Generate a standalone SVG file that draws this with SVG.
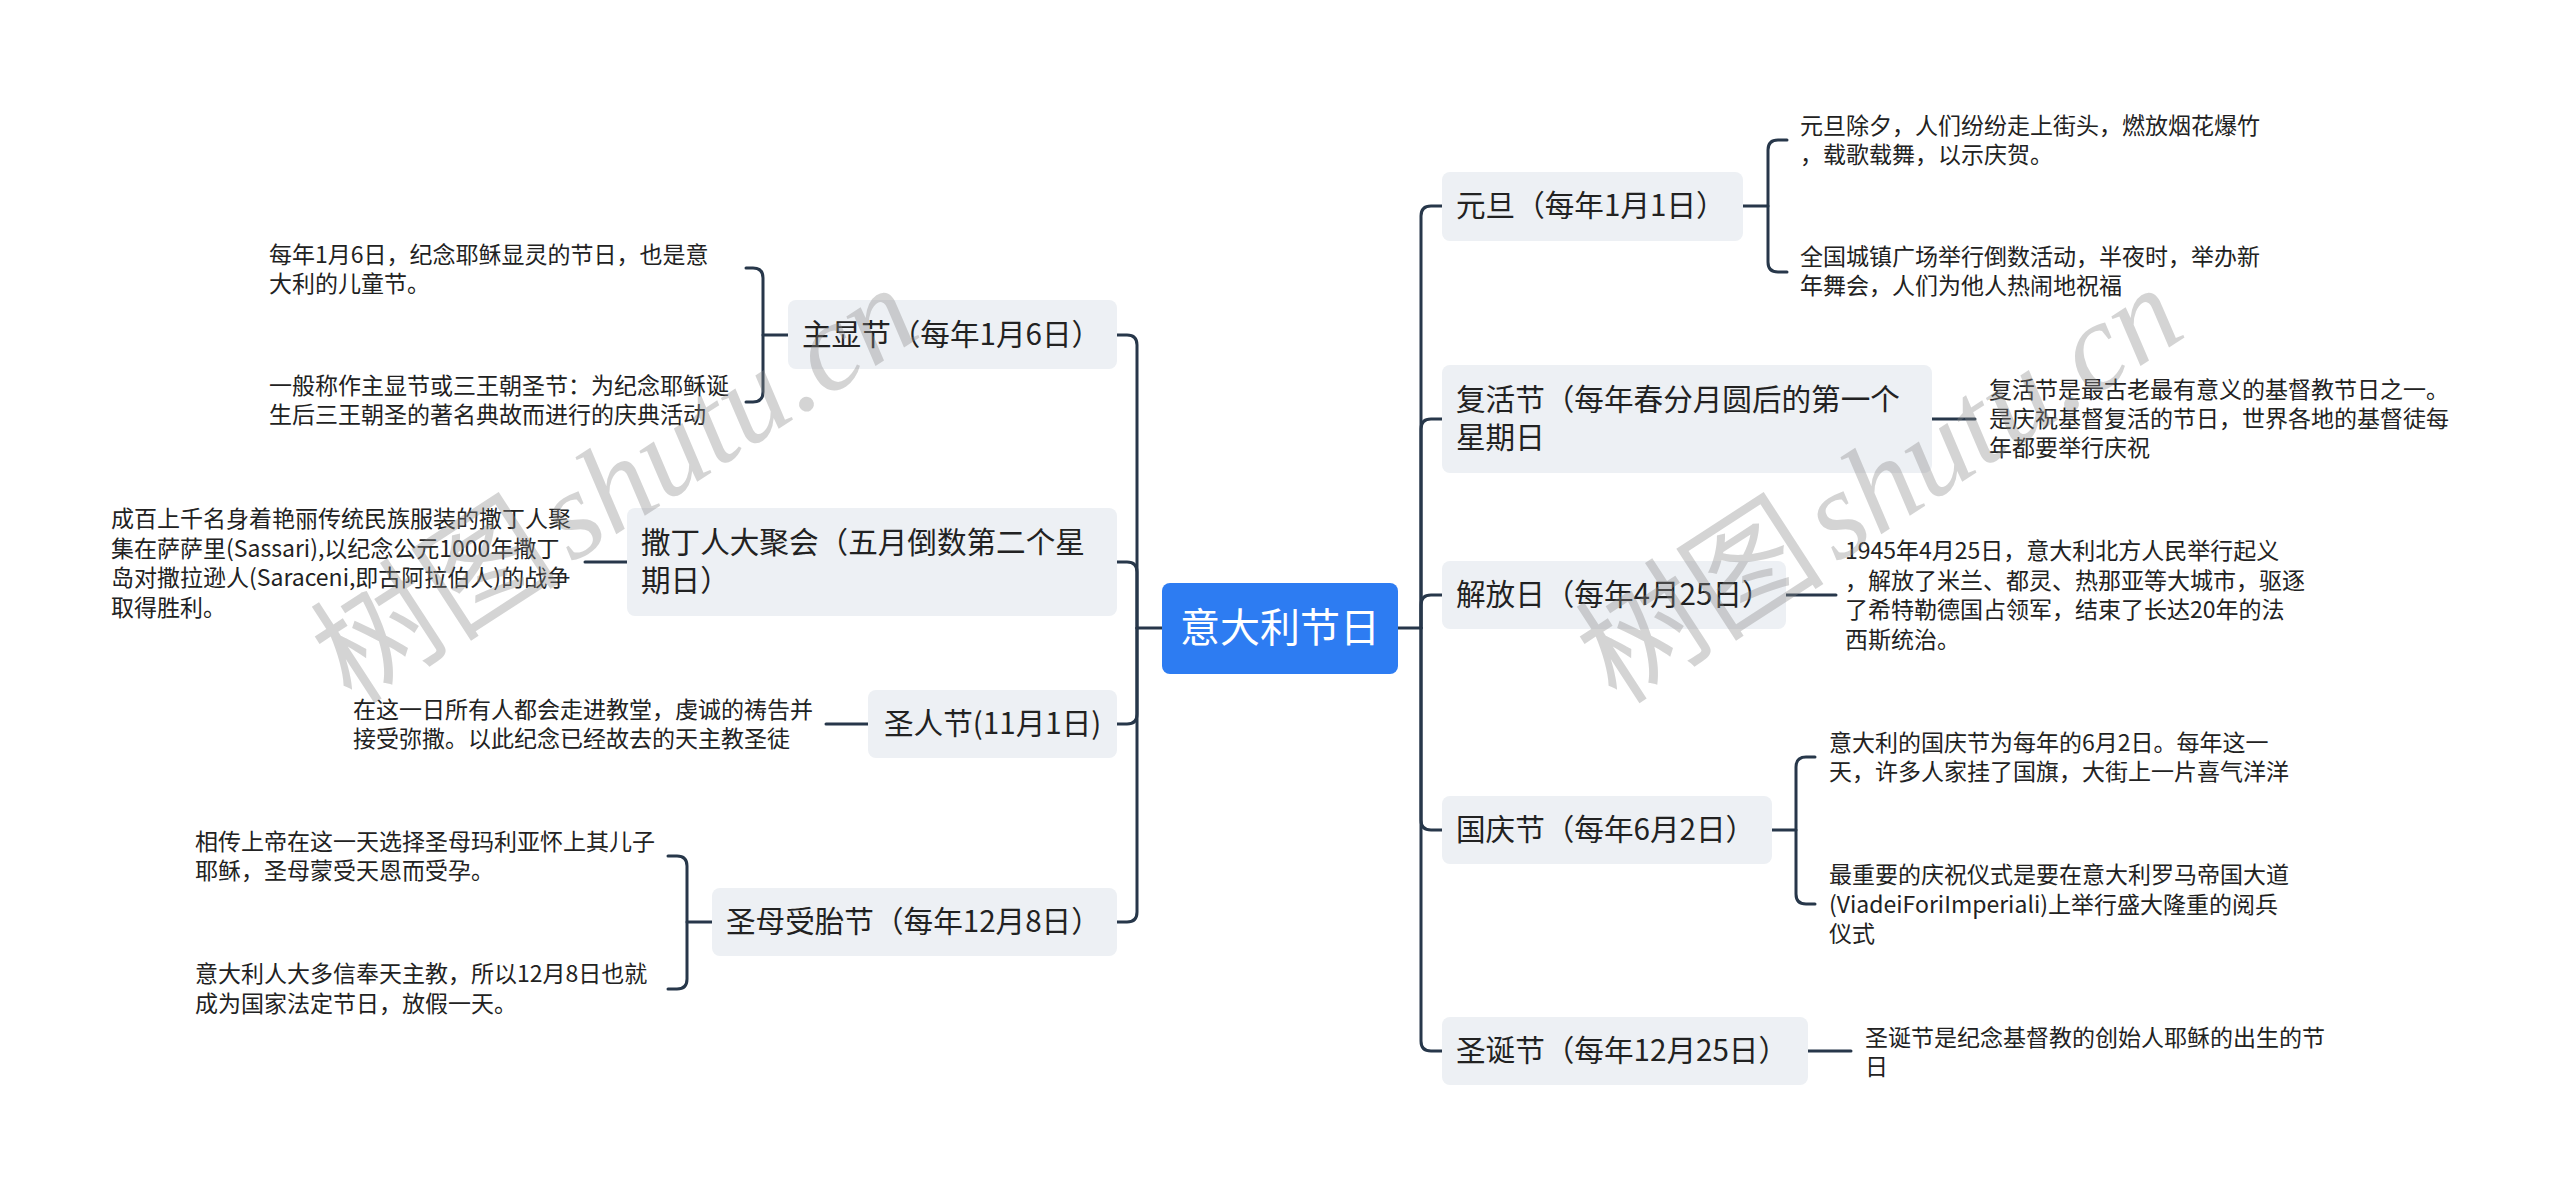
<svg xmlns="http://www.w3.org/2000/svg" width="2560" height="1191" viewBox="0 0 2560 1191">
<style>
text{font-family:"Noto Sans CJK SC","Noto Sans",sans-serif;fill:#222}
.node{fill:#edf0f4}
.nt{font-size:29.6px}
.lt{font-size:23px}
.rt{font-size:40px;fill:#fff}
.c{fill:none;stroke:#27374a;stroke-width:3;stroke-linecap:round;stroke-linejoin:round}
.wm{font-size:125px;fill:#8a8a8a;opacity:0.36}
</style>
<rect width="2560" height="1191" fill="#fff"/>
<g id="connectors">
<path class="c" d="M1162 628H1137"/>
<path class="c" d="M1137 628V345Q1137 335 1127 335H1117"/>
<path class="c" d="M1137 628V572Q1137 562 1127 562H1117"/>
<path class="c" d="M1137 628V714Q1137 724 1127 724H1117"/>
<path class="c" d="M1137 628V912Q1137 922 1127 922H1117"/>
<path class="c" d="M1398 628H1421"/>
<path class="c" d="M1421 628V216Q1421 206 1431 206H1442"/>
<path class="c" d="M1421 628V429Q1421 419 1431 419H1442"/>
<path class="c" d="M1421 628V605Q1421 595 1431 595H1442"/>
<path class="c" d="M1421 628V820Q1421 830 1431 830H1442"/>
<path class="c" d="M1421 628V1041Q1421 1051 1431 1051H1442"/>
<path class="c" d="M788 335H763"/>
<path class="c" d="M746 268H753Q763 268 763 278V392Q763 402 753 402H746"/>
<path class="c" d="M627 562H585"/>
<path class="c" d="M868 724H826"/>
<path class="c" d="M712 922H687"/>
<path class="c" d="M668 856H677Q687 856 687 866V979Q687 989 677 989H668"/>
<path class="c" d="M1743 206H1768"/>
<path class="c" d="M1787 140H1778Q1768 140 1768 150V262Q1768 272 1778 272H1787"/>
<path class="c" d="M1932 419H1975"/>
<path class="c" d="M1786 595H1836"/>
<path class="c" d="M1772 830H1796"/>
<path class="c" d="M1815 757H1806Q1796 757 1796 767V894Q1796 904 1806 904H1815"/>
<path class="c" d="M1808 1051H1851"/>
</g>
<g id="root">
<rect x="1162" y="583" width="236" height="91" rx="8" fill="#2d7cf2"/>
<text class="rt" x="1280" y="642" text-anchor="middle">意大利节日</text>
</g>
<g id="n-zhuxian">
<rect class="node" x="788" y="300" width="329" height="69" rx="8"/>
<text class="nt" x="802" y="345">主显节（每年1月6日）</text>
</g>
<g id="l-zhuxian-1"><text class="lt" x="269" y="263">每年1月6日，纪念耶稣显灵的节日，也是意</text><text class="lt" x="269" y="292">大利的儿童节。</text></g>
<g id="l-zhuxian-2"><text class="lt" x="269" y="394">一般称作主显节或三王朝圣节：为纪念耶稣诞</text><text class="lt" x="269" y="423">生后三王朝圣的著名典故而进行的庆典活动</text></g>
<g id="n-sardinia">
<rect class="node" x="627" y="508" width="490" height="108" rx="8"/>
<text class="nt" x="641" y="553">撒丁人大聚会（五月倒数第二个星</text>
<text class="nt" x="641" y="591">期日）</text>
</g>
<g id="l-sardinia"><text class="lt" x="111" y="527">成百上千名身着艳丽传统民族服装的撒丁人聚</text><text class="lt" x="111" y="557">集在萨萨里(Sassari),以纪念公元1000年撒丁</text><text class="lt" x="111" y="586">岛对撒拉逊人(Saraceni,即古阿拉伯人)的战争</text><text class="lt" x="111" y="616">取得胜利。</text></g>
<g id="n-saints">
<rect class="node" x="868" y="690" width="249" height="68" rx="8"/>
<text class="nt" x="884" y="734">圣人节(11月1日)</text>
</g>
<g id="l-saints"><text class="lt" x="353" y="718">在这一日所有人都会走进教堂，虔诚的祷告并</text><text class="lt" x="353" y="747">接受弥撒。以此纪念已经故去的天主教圣徒</text></g>
<g id="n-conception">
<rect class="node" x="712" y="888" width="405" height="68" rx="8"/>
<text class="nt" x="726" y="932">圣母受胎节（每年12月8日）</text>
</g>
<g id="l-conception-1"><text class="lt" x="195" y="850">相传上帝在这一天选择圣母玛利亚怀上其儿子</text><text class="lt" x="195" y="879">耶稣，圣母蒙受天恩而受孕。</text></g>
<g id="l-conception-2"><text class="lt" x="195" y="982">意大利人大多信奉天主教，所以12月8日也就</text><text class="lt" x="195" y="1012">成为国家法定节日，放假一天。</text></g>
<g id="n-newyear">
<rect class="node" x="1442" y="172" width="301" height="69" rx="8"/>
<text class="nt" x="1456" y="216">元旦（每年1月1日）</text>
</g>
<g id="l-newyear-1"><text class="lt" x="1800" y="134">元旦除夕，人们纷纷走上街头，燃放烟花爆竹</text><text class="lt" x="1800" y="163">，载歌载舞，以示庆贺。</text></g>
<g id="l-newyear-2"><text class="lt" x="1800" y="265">全国城镇广场举行倒数活动，半夜时，举办新</text><text class="lt" x="1800" y="294">年舞会，人们为他人热闹地祝福</text></g>
<g id="n-easter">
<rect class="node" x="1442" y="365" width="490" height="108" rx="8"/>
<text class="nt" x="1456" y="410">复活节（每年春分月圆后的第一个</text>
<text class="nt" x="1456" y="448">星期日</text>
</g>
<g id="l-easter"><text class="lt" x="1989" y="398">复活节是最古老最有意义的基督教节日之一。</text><text class="lt" x="1989" y="427">是庆祝基督复活的节日，世界各地的基督徒每</text><text class="lt" x="1989" y="456">年都要举行庆祝</text></g>
<g id="n-liberation">
<rect class="node" x="1442" y="561" width="344" height="68" rx="8"/>
<text class="nt" x="1456" y="605">解放日（每年4月25日）</text>
</g>
<g id="l-liberation"><text class="lt" x="1845" y="559">1945年4月25日，意大利北方人民举行起义</text><text class="lt" x="1845" y="589">，解放了米兰、都灵、热那亚等大城市，驱逐</text><text class="lt" x="1845" y="618">了希特勒德国占领军，结束了长达20年的法</text><text class="lt" x="1845" y="648">西斯统治。</text></g>
<g id="n-national">
<rect class="node" x="1442" y="796" width="330" height="68" rx="8"/>
<text class="nt" x="1456" y="840">国庆节（每年6月2日）</text>
</g>
<g id="l-national-1"><text class="lt" x="1829" y="751">意大利的国庆节为每年的6月2日。每年这一</text><text class="lt" x="1829" y="780">天，许多人家挂了国旗，大街上一片喜气洋洋</text></g>
<g id="l-national-2"><text class="lt" x="1829" y="883">最重要的庆祝仪式是要在意大利罗马帝国大道</text><text class="lt" x="1829" y="913">(ViadeiForiImperiali)上举行盛大隆重的阅兵</text><text class="lt" x="1829" y="942">仪式</text></g>
<g id="n-christmas">
<rect class="node" x="1442" y="1017" width="366" height="68" rx="8"/>
<text class="nt" x="1456" y="1061">圣诞节（每年12月25日）</text>
</g>
<g id="l-christmas"><text class="lt" x="1865" y="1046">圣诞节是纪念基督教的创始人耶稣的出生的节</text><text class="lt" x="1865" y="1075">日</text></g>
<g id="watermark">
<text class="wm" transform="translate(352 706) rotate(-33)">树图<tspan font-family="Liberation Serif" font-style="italic" dx="12">shutu.cn</tspan></text>
<text class="wm" transform="translate(1617 706) rotate(-33)">树图<tspan font-family="Liberation Serif" font-style="italic" dx="12">shutu.cn</tspan></text>
</g>
</svg>
